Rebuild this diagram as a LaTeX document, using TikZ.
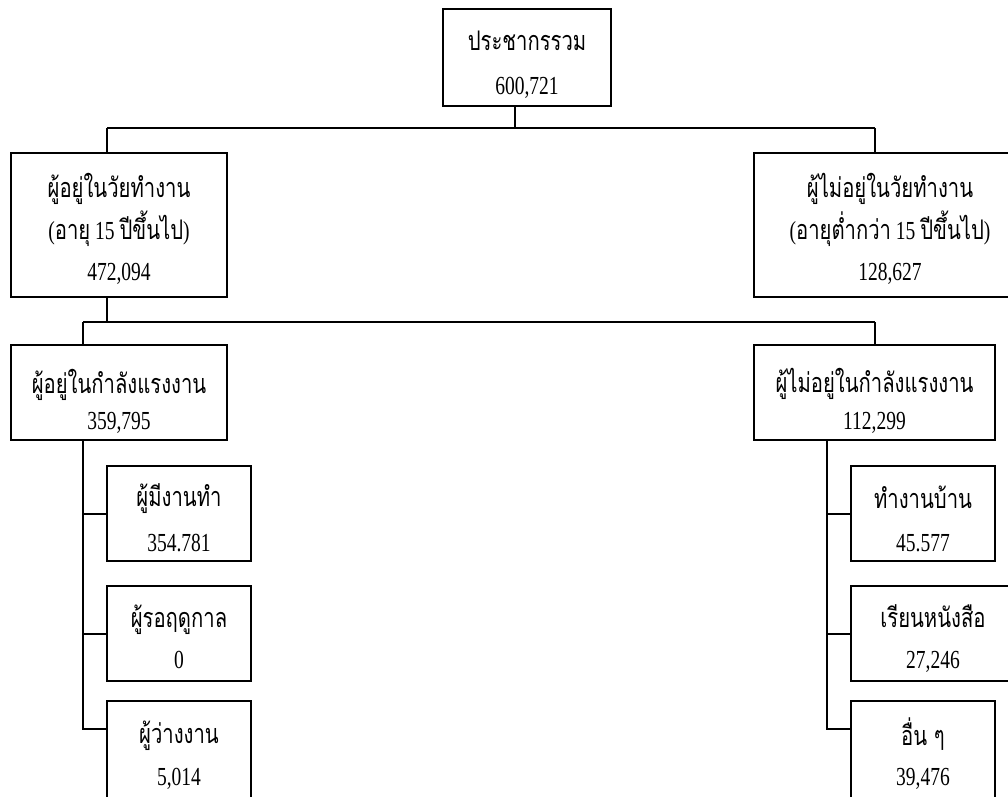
\documentclass[tikz,border=0pt]{standalone}
\usepackage{fontspec}
\setmainfont{Liberation Serif}[FakeStretch=0.75]
\newfontfamily\thaifont[Script=Thai,FakeStretch=0.75]{Loma}
\newcommand{\T}[1]{{\thaifont\fontsize{27}{30}\selectfont #1}}
\begin{document}
\begin{tikzpicture}[x=1pt,y=-1pt,
  box/.style={draw, line width=2pt, inner sep=0pt},
  conn/.style={line width=2pt},
  txt/.style={anchor=base, inner sep=0pt, font=\fontsize{26}{30}\selectfont}]
\useasboundingbox (0,0) rectangle (1008,796);
\clip (0,0) rectangle (1008,796);
% boxes
\node[box, minimum width=168pt, minimum height=97pt]  (top) at (527,57.5) {};
\node[box, minimum width=216pt, minimum height=144pt] (l1)  at (119,225) {};
\node[box, minimum width=272pt, minimum height=144pt] (r1)  at (890,225) {};
\node[box, minimum width=216pt, minimum height=95pt]  (l2)  at (119,392.5) {};
\node[box, minimum width=241pt, minimum height=95pt]  (r2)  at (874.5,392.5) {};
\node[box, minimum width=144pt, minimum height=95pt]  (ll1) at (179,513.5) {};
\node[box, minimum width=144pt, minimum height=95pt]  (ll2) at (179,633.5) {};
\node[box, minimum width=144pt, minimum height=97pt]  (ll3) at (179,749.5) {};
\node[box, minimum width=144pt, minimum height=95pt]  (rl1) at (923,513.5) {};
\node[box, minimum width=164pt, minimum height=95pt]  (rl2) at (933,633.5) {};
\node[box, minimum width=144pt, minimum height=97pt]  (rl3) at (923,749.5) {};
% texts
\node[txt] (top-a) at (527,50) {\T{ประชากรรวม}};
\node[txt] (top-b) at (527,94) {600,721};
\node[txt] (l1-a) at (119,197) {\T{ผู้อยู่ในวัยทำงาน}};
\node[txt] (l1-b) at (119,239) {(\T{อายุ} 15 \T{ปีขึ้นไป})};
\node[txt] (l1-c) at (119,280) {472,094};
\node[txt] (r1-a) at (890,197) {\T{ผู้ไม่อยู่ในวัยทำงาน}};
\node[txt] (r1-b) at (890,239) {(\T{อายุต่ำกว่า} 15 \T{ปีขึ้นไป})};
\node[txt] (r1-c) at (890,280) {128,627};
\node[txt] (l2-a) at (119,393) {\T{ผู้อยู่ในกำลังแรงงาน}};
\node[txt] (l2-b) at (119,429) {359,795};
\node[txt] (r2-a) at (874.5,392) {\T{ผู้ไม่อยู่ในกำลังแรงงาน}};
\node[txt] (r2-b) at (874.5,429) {112,299};
\node[txt] (ll1-a) at (179,506) {\T{ผู้มีงานทำ}};
\node[txt] (ll1-b) at (179,551) {354.781};
\node[txt] (ll2-a) at (179,627) {\T{ผู้รอฤดูกาล}};
\node[txt] (ll2-b) at (179,668) {0};
\node[txt] (ll3-a) at (179,743) {\T{ผู้ว่างงาน}};
\node[txt] (ll3-b) at (179,785) {5,014};
\node[txt] (rl1-a) at (923,508) {\T{ทำงานบ้าน}};
\node[txt] (rl1-b) at (923,551) {45.577};
\node[txt] (rl2-a) at (933,627) {\T{เรียนหนังสือ}};
\node[txt] (rl2-b) at (933,668) {27,246};
\node[txt] (rl3-a) at (923,745) {\T{อื่น ๆ}};
\node[txt] (rl3-b) at (923,785) {39,476};
% junctions
\coordinate (j0) at (515,128);
\coordinate (jl1) at (107,128);
\coordinate (jr1) at (875,128);
\coordinate (k0) at (107,322);
\coordinate (kl) at (83,322);
\coordinate (kr) at (875,322);
\coordinate (tl) at (83,729);
\coordinate (tr) at (827,729);
% connectors
\draw[conn] (j0 |- top.south) -- (j0);
\draw[conn] (jl1) -- (jr1);
\draw[conn] (jl1) -- (jl1 |- l1.north);
\draw[conn] (jr1) -- (jr1 |- r1.north);
\draw[conn] (k0 |- l1.south) -- (k0);
\draw[conn] (kl) -- (kr);
\draw[conn] (kl) -- (kl |- l2.north);
\draw[conn] (kr) -- (kr |- r2.north);
\draw[conn] (tl |- l2.south) -- (tl) -- (tl -| ll3.west);
\draw[conn] (tl |- ll1.west) -- (ll1.west);
\draw[conn] (tl |- ll2.west) -- (ll2.west);
\draw[conn] (tr |- r2.south) -- (tr) -- (tr -| rl3.west);
\draw[conn] (tr |- rl1.west) -- (rl1.west);
\draw[conn] (tr |- rl2.west) -- (rl2.west);
\end{tikzpicture}
\end{document}
